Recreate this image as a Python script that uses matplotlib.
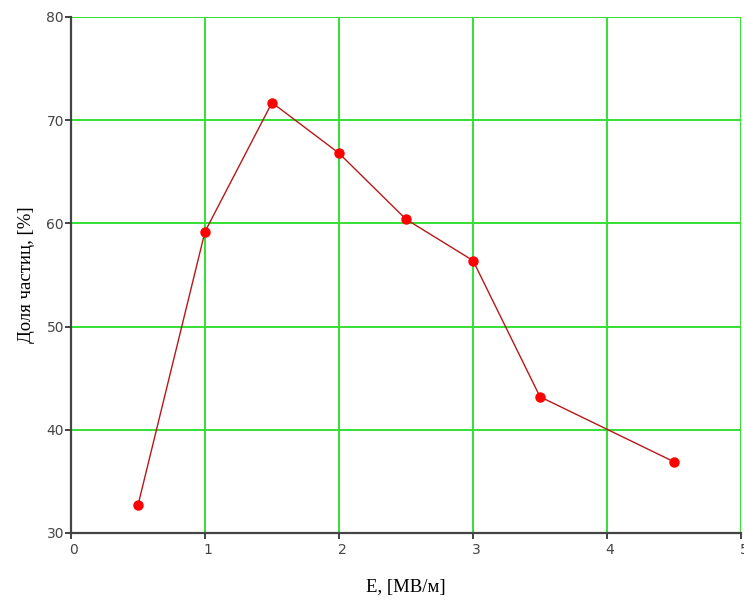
import matplotlib
matplotlib.use('Agg')
from matplotlib import pyplot as plt
from matplotlib.transforms import ScaledTranslation

# field strength, MV/m
field = [0.5, 1.0, 1.5, 2.0, 2.5, 3.0, 3.5, 4.5]
# particle fraction, %
fraction = [32.7, 59.2, 71.7, 66.8, 60.4, 56.4, 43.2, 36.9]

x_ticks = [0, 1, 2, 3, 4, 5]
y_ticks = [30, 40, 50, 60, 70, 80]

fig = plt.figure(figsize=(7.44, 6.02), dpi=100, facecolor='w')
ax = fig.add_axes([71 / 744, 69 / 602, 670 / 744, 516 / 602])

ax.set_xlim(0, 5)
ax.set_ylim(30, 80)
ax.set_xticks(x_ticks)
ax.set_yticks(y_ticks)
ax.grid(True, color='#33e033', linewidth=1.4)
ax.set_axisbelow(True)

for side in ['top', 'right']:
    ax.spines[side].set_visible(False)
for side in ['left', 'bottom']:
    ax.spines[side].set_color('#444444')
    ax.spines[side].set_linewidth(1.6)

ax.tick_params(axis='both', direction='out', length=4, width=1.2,
               color='#222222', labelcolor='#444444', labelsize=10, pad=1)
ax.tick_params(axis='x', pad=3)
for lbl in ax.get_xticklabels():
    lbl.set_fontfamily('DejaVu Sans')
    lbl.set_transform(lbl.get_transform() + ScaledTranslation(3 / 100, 0, fig.dpi_scale_trans))
for lbl in ax.get_yticklabels():
    lbl.set_fontfamily('DejaVu Sans')

ax.plot(field, fraction, color='#b81818', linewidth=1.0, zorder=3)
ax.plot(field, fraction, 'o', color='#ff0000', markersize=6.5, zorder=4)

ax.set_xlabel('E, [МВ/м]', family='Liberation Serif', fontsize=13.5, labelpad=16)
ax.set_ylabel('Доля частиц, [%]', family='Liberation Serif', fontsize=13.5, labelpad=8)

fig.savefig('out.png', dpi=100)
